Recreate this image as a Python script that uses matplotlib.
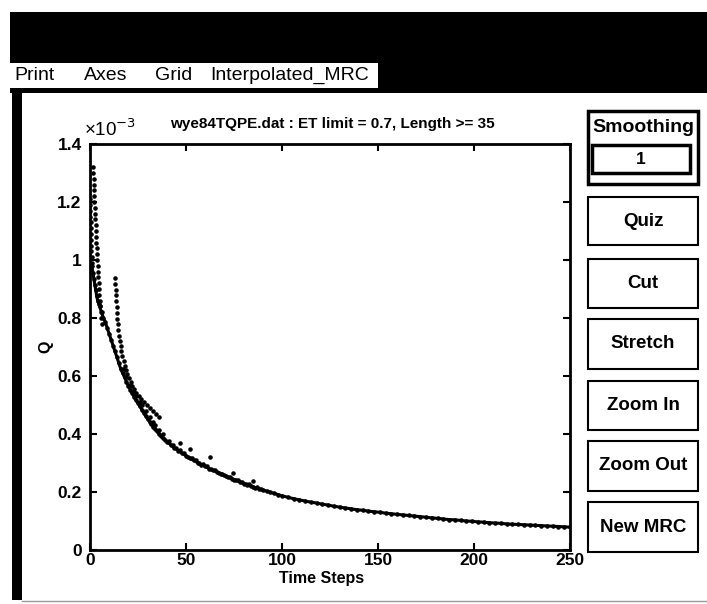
import matplotlib
matplotlib.use("Agg")
import matplotlib.pyplot as plt
from matplotlib.patches import Rectangle

# ---------------- data (Q in units of 1e-3) ----------------
main_t = [1, 1.5, 2, 2.5, 3, 3.5, 4, 4.5, 5, 6, 7, 8, 9, 10, 11, 12, 13, 14, 15, 16, 17, 18, 19, 20,
          21, 22, 23, 24, 25, 26, 27, 28, 29, 30, 31, 32, 33, 34, 35, 36, 37, 38, 39, 40, 42, 44, 46, 48,
          50, 52, 54, 56, 58, 60, 62, 64, 66, 68, 70, 72, 74, 76, 78, 80, 82, 84, 86, 88, 90, 92, 94, 96,
          98, 100, 103, 106, 109, 112, 115, 118, 121, 124, 127, 130, 133, 136, 139, 142, 145, 148, 151,
          154, 157, 160, 163, 166, 169, 172, 175, 178, 181, 184, 187, 190, 193, 196, 199, 202, 205, 208,
          211, 214, 217, 220, 223, 226, 229, 232, 235, 238, 241, 244, 247, 250]
main_q = [0.98, 0.955, 0.935, 0.915, 0.895, 0.875, 0.86, 0.85, 0.84, 0.82, 0.80, 0.785, 0.765, 0.745,
          0.725, 0.705, 0.685, 0.665, 0.645, 0.625, 0.61, 0.595, 0.58, 0.565, 0.553, 0.54, 0.528, 0.517,
          0.506, 0.495, 0.484, 0.474, 0.462, 0.452, 0.443, 0.434, 0.425, 0.417, 0.409, 0.401, 0.394,
          0.387, 0.380, 0.374, 0.363, 0.352, 0.343, 0.333, 0.325, 0.316, 0.309, 0.301, 0.294, 0.288,
          0.281, 0.275, 0.269, 0.263, 0.257, 0.251, 0.246, 0.241, 0.236, 0.229, 0.224, 0.220, 0.215,
          0.211, 0.207, 0.203, 0.199, 0.195, 0.191, 0.187, 0.182, 0.177, 0.173, 0.169, 0.165, 0.162,
          0.158, 0.155, 0.151, 0.148, 0.145, 0.142, 0.139, 0.137, 0.134, 0.132, 0.130, 0.127, 0.125,
          0.123, 0.121, 0.119, 0.117, 0.115, 0.113, 0.111, 0.109, 0.107, 0.105, 0.104, 0.102, 0.100,
          0.099, 0.097, 0.096, 0.094, 0.093, 0.092, 0.090, 0.089, 0.088, 0.087, 0.086, 0.085, 0.084,
          0.083, 0.082, 0.081, 0.080, 0.079]

start_t = [0.1, 0.15, 0.2, 0.25, 0.3, 0.35, 0.4, 0.5, 0.6, 0.7, 0.8, 0.9]
start_q = [1.21, 1.19, 1.17, 1.15, 1.13, 1.11, 1.09, 1.07, 1.05, 1.03, 1.01, 0.99]

segC_t = [1.7, 1.8, 1.9, 2.0, 2.1, 2.2, 2.3, 2.45, 2.6, 2.75, 2.9, 3.05, 3.2, 3.35, 3.5, 3.65,
          3.8, 3.95, 4.1, 4.3, 4.5, 4.7, 4.9, 5.1, 5.35, 5.6, 5.9, 6.2]
segC_q = [1.32, 1.30, 1.28, 1.26, 1.24, 1.22, 1.20, 1.18, 1.16, 1.14, 1.12, 1.10, 1.08, 1.06,
          1.04, 1.02, 1.00, 0.98, 0.96, 0.94, 0.92, 0.90, 0.88, 0.86, 0.84, 0.82, 0.80, 0.78]

segD_t = [13.0, 13.1, 13.3, 13.5, 13.7, 13.9, 14.1, 14.3, 14.5, 14.8, 15.1, 15.5, 15.9, 16.4,
          16.9, 17.5, 18.1, 18.8, 19.5, 20.3, 21.2, 22.1, 23.1, 24.2, 25.4, 26.7, 28.0, 29.5,
          31.0, 32.6, 34.3, 36.1]
segD_q = [0.938, 0.918, 0.898, 0.878, 0.858, 0.838, 0.818, 0.798, 0.778, 0.758, 0.739, 0.720,
          0.702, 0.685, 0.668, 0.652, 0.636, 0.621, 0.607, 0.593, 0.580, 0.567, 0.555, 0.543,
          0.532, 0.521, 0.510, 0.499, 0.489, 0.479, 0.469, 0.459]

cloud_t = [17, 19, 21, 23, 24, 26, 27, 29, 31, 33, 34, 36, 38, 41, 43, 45, 47, 49, 51, 53, 55,
           57, 59, 61, 63, 65, 67, 69, 71, 73, 75, 77, 79, 81, 83, 85, 87, 89]
cloud_q = [0.625, 0.595, 0.57, 0.545, 0.53, 0.51, 0.50, 0.478, 0.46, 0.44, 0.43, 0.415, 0.40,
           0.375, 0.362, 0.352, 0.345, 0.333, 0.322, 0.318, 0.31, 0.30, 0.295, 0.288, 0.28,
           0.275, 0.267, 0.262, 0.254, 0.252, 0.243, 0.24, 0.233, 0.228, 0.226, 0.218, 0.216, 0.21]

iso_t = [47, 52, 62.5, 74.5, 85]
iso_q = [0.37, 0.35, 0.32, 0.265, 0.238]

x_ticks = [0, 50, 100, 150, 200, 250]
y_ticks = [0, 0.2, 0.4, 0.6, 0.8, 1.0, 1.2, 1.4]
y_tick_labels = ["0", "0.2", "0.4", "0.6", "0.8", "1", "1.2", "1.4"]

title = "wye84TQPE.dat : ET limit = 0.7, Length >= 35"
menu_items = ["Print", "Axes", "Grid", "Interpolated_MRC"]
menu_x = [14, 84, 155, 210]
buttons = ["Quiz", "Cut", "Stretch", "Zoom In", "Zoom Out", "New MRC"]

# ---------------- figure ----------------
W, H = 707, 604
FONT = ["Liberation Sans Narrow", "Liberation Sans", "DejaVu Sans"]
plt.rcParams['font.family'] = FONT

fig = plt.figure(figsize=(W / 100, H / 100), dpi=100, facecolor="white")


def fx(x):
    return x / W


def fy(y):
    return 1 - y / H


def rect(x0, y0, x1, y1, fc="none", ec="black", lw=1.5, z=1):
    fig.patches.append(Rectangle((fx(x0), fy(y1)), fx(x1) - fx(x0), fy(y0) - fy(y1),
                                 transform=fig.transFigure, facecolor=fc, edgecolor=ec,
                                 linewidth=lw, zorder=z))


# window chrome
rect(10, 12, 707, 93, fc="black", ec="black", lw=0)
rect(12, 93, 22, 600, fc="black", ec="black", lw=0)
rect(10, 63, 378, 88, fc="white", ec="white", lw=0, z=2)
for item, mx in zip(menu_items, menu_x):
    fig.text(fx(mx), fy(75.5), item, fontsize=14, va="center", ha="left", zorder=3)
fig.lines.append(plt.Line2D([fx(22), fx(707)], [fy(601), fy(601)], transform=fig.transFigure,
                            color="#999999", lw=1))

# axes
ax = fig.add_axes([fx(90), fy(550), fx(570) - fx(90), fy(144) - fy(550)])
ax.set_xlim(0, 250)
ax.set_ylim(0, 1.4)
mk = dict(ls="none", marker=".", color="black", ms=4.5)
ax.plot(main_t, main_q, "-", color="black", lw=2.2)
ax.plot(main_t, main_q, **mk)
ax.plot(start_t, start_q, **mk)
ax.plot(segC_t, segC_q, **mk)
ax.plot(segD_t, segD_q, **mk)
ax.plot(cloud_t, cloud_q, **mk)
ax.plot(iso_t, iso_q, **mk)

ax.set_xticks(x_ticks)
ax.set_xticklabels([str(v) for v in x_ticks])
ax.set_yticks(y_ticks)
ax.set_yticklabels(y_tick_labels)
ax.tick_params(direction="in", length=5, width=1.5, top=True, right=True, labelsize=12.5)
ax.tick_params(axis="x", pad=2)
ax.tick_params(axis="y", pad=6)
for lab in ax.get_xticklabels() + ax.get_yticklabels():
    lab.set_fontweight("bold")
for sp in ax.spines.values():
    sp.set_linewidth(2)

fig.text(fx(322), fy(579), "Time Steps", fontsize=11.5, fontweight="bold", ha="center", va="center")
fig.text(fx(46), fy(347), "Q", fontsize=11.5, fontweight="bold", ha="center", va="center", rotation=90)
fig.text(fx(84), fy(129), "×10$^{-3}$", fontsize=13.5, ha="left", va="center")
fig.text(fx(332), fy(124), title, fontsize=11, fontweight="bold", ha="center", va="center")

# right-hand controls
rect(588, 111, 698, 184, lw=2.5)
fig.text(fx(643), fy(128), "Smoothing", fontsize=14, fontweight="bold", ha="center", va="center")
rect(592, 145, 690, 173, lw=2.5)
fig.text(fx(641), fy(160), "1", fontsize=12.5, fontweight="bold", ha="center", va="center")

btn_y = [(197, 245), (259, 308), (319, 369), (381, 430), (441, 491), (502, 552)]
for label, (y0, y1) in zip(buttons, btn_y):
    rect(588, y0, 698, y1, lw=1.5)
    fig.text(fx(643), fy((y0 + y1) / 2), label, fontsize=13.5, fontweight="bold",
             ha="center", va="center")

fig.savefig("out.png", dpi=100, facecolor="white")
